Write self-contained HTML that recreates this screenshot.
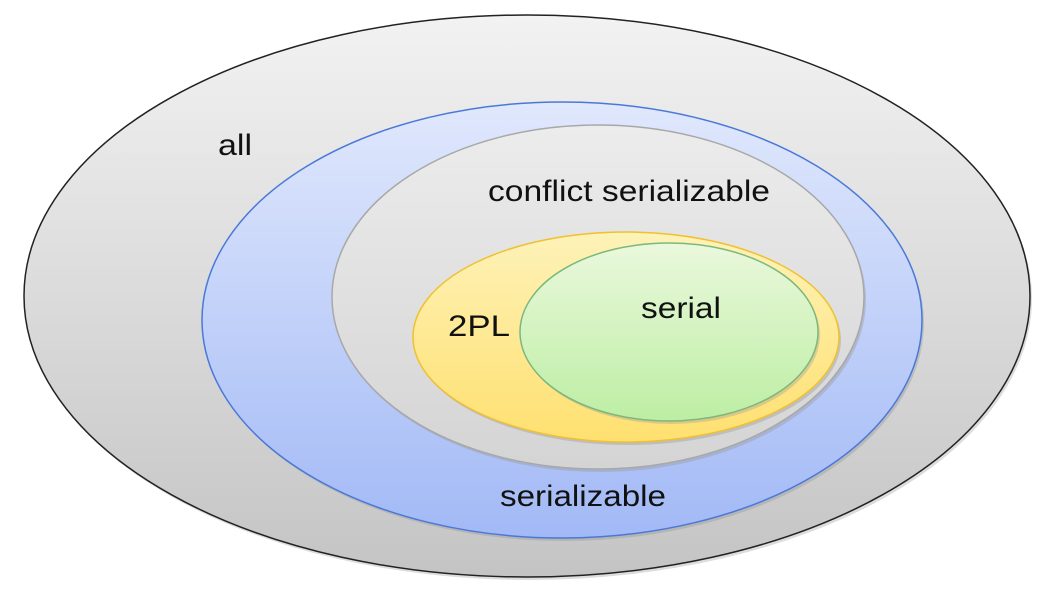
<!DOCTYPE html>
<html><head><style>html,body{margin:0;padding:0;background:#fff;}svg{display:block;}</style></head>
<body>
<svg width="1055" height="602" viewBox="0 0 1055 602" xmlns="http://www.w3.org/2000/svg">
<defs>
<linearGradient id="g0" x1="0" y1="0" x2="0" y2="1"><stop offset="0" stop-color="#f2f2f2"/><stop offset="1" stop-color="#c4c4c4"/></linearGradient>
<linearGradient id="g1" x1="0" y1="0" x2="0" y2="1"><stop offset="0" stop-color="#e0e8fc"/><stop offset="1" stop-color="#a2b9f6"/></linearGradient>
<linearGradient id="g2" x1="0" y1="0" x2="0" y2="1"><stop offset="0" stop-color="#ececec"/><stop offset="1" stop-color="#d4d4d4"/></linearGradient>
<linearGradient id="g3" x1="0" y1="0" x2="0" y2="1"><stop offset="0" stop-color="#fdf2b8"/><stop offset="1" stop-color="#ffe070"/></linearGradient>
<linearGradient id="g4" x1="0" y1="0" x2="0" y2="1"><stop offset="0" stop-color="#eaf8dc"/><stop offset="1" stop-color="#bdeea4"/></linearGradient>
</defs>
<ellipse cx="529" cy="299" rx="503" ry="281" fill="#bbb" opacity="0.5"/>
<ellipse cx="527" cy="296" rx="503" ry="281" fill="url(#g0)" stroke="#222" stroke-width="1.5"/>
<ellipse cx="564" cy="323" rx="360" ry="218" fill="#999" opacity="0.4"/>
<ellipse cx="562" cy="320" rx="360" ry="218" fill="url(#g1)" stroke="#4a78d8" stroke-width="1.5"/>
<ellipse cx="600" cy="300" rx="266" ry="172" fill="#999" opacity="0.4"/>
<ellipse cx="598" cy="297" rx="266" ry="172" fill="url(#g2)" stroke="#a8a8a8" stroke-width="1.5"/>
<ellipse cx="628" cy="340" rx="213" ry="105" fill="#999" opacity="0.4"/>
<ellipse cx="626" cy="337" rx="213" ry="105" fill="url(#g3)" stroke="#f0c030" stroke-width="1.5"/>
<ellipse cx="671" cy="335" rx="149" ry="89" fill="#999" opacity="0.35"/>
<ellipse cx="669" cy="332" rx="149" ry="89" fill="url(#g4)" stroke="#7cb87c" stroke-width="1.5"/>
<g font-family="Liberation Sans, Arial, sans-serif" font-size="30" fill="#111">
<text x="218" y="155" textLength="34" lengthAdjust="spacingAndGlyphs">all</text>
<text x="488" y="201" textLength="282" lengthAdjust="spacingAndGlyphs">conflict serializable</text>
<text x="448" y="336" textLength="62" lengthAdjust="spacingAndGlyphs">2PL</text>
<text x="641" y="318" textLength="80" lengthAdjust="spacingAndGlyphs">serial</text>
<text x="500" y="506" textLength="166" lengthAdjust="spacingAndGlyphs">serializable</text>
</g>
</svg>
</body></html>
